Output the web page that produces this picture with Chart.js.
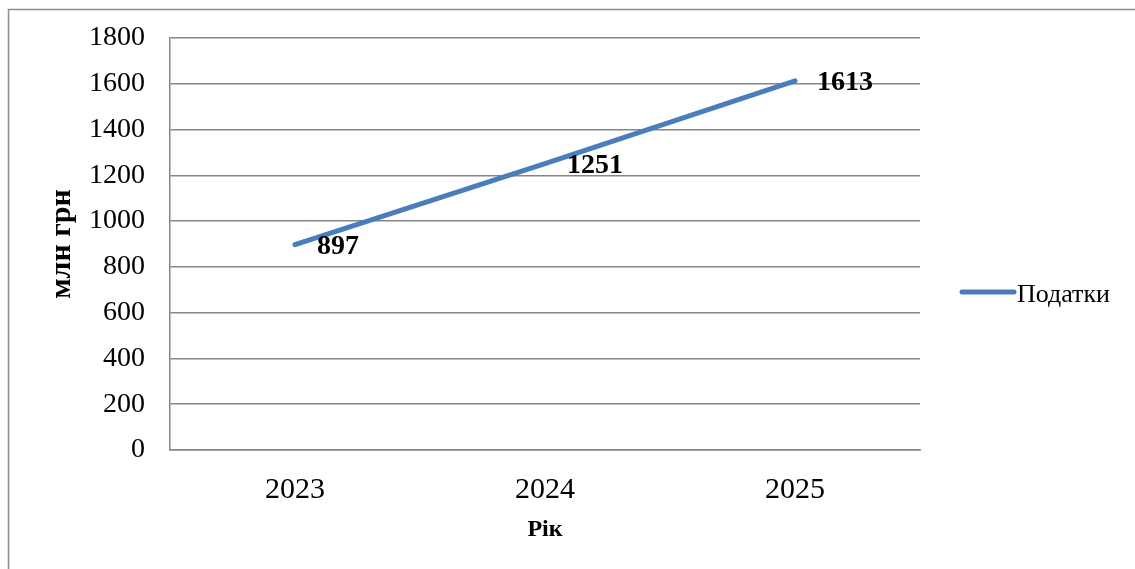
<!DOCTYPE html>
<html>
<head>
<meta charset="utf-8">
<script src="https://cdn.jsdelivr.net/npm/chart.js@4"></script>
<style>
  html, body { margin: 0; padding: 0; background: #fff; }
  #wrap { width: 1135px; height: 569px; position: relative; }
</style>
</head>
<body>
<div id="wrap"><canvas id="taxChart" width="1135" height="569"></canvas></div>
<script>
const years = ['2023', '2024', '2025'];
const taxes = [897, 1251, 1613];
const yTicks = [0, 200, 400, 600, 800, 1000, 1200, 1400, 1600, 1800];
const seriesName = 'Податки';

const serif = "'Times New Roman', 'Liberation Serif', serif";
const gridGray = '#868686';
const lineBlue = '#4a7ebb';

// frame around the whole chart, legend and value labels
const extras = {
  id: 'extras',
  beforeDraw(chart) {
    const c = chart.ctx;
    c.save();
    c.strokeStyle = '#8c8c8c';
    c.lineWidth = 1.5;
    c.strokeRect(8.5, 9.5, 1300, 700);
    c.restore();
  },
  afterDraw(chart) {
    const c = chart.ctx;
    const ds = chart.data.datasets[0];
    const meta = chart.getDatasetMeta(0);
    c.save();
    c.fillStyle = '#000';
    c.font = 'bold 28px ' + serif;
    c.textAlign = 'left';
    c.textBaseline = 'middle';
    meta.data.forEach((pt, i) => {
      c.fillText(String(ds.data[i]), pt.x + 22, pt.y + 2);
    });

    // legend
    c.strokeStyle = ds.borderColor;
    c.lineWidth = 5;
    c.lineCap = 'round';
    c.beginPath();
    c.moveTo(962, 292);
    c.lineTo(1014, 292);
    c.stroke();
    c.font = '26px ' + serif;
    c.fillText(ds.label, 1017, 295);
    c.restore();
  }
};

new Chart(document.getElementById('taxChart'), {
  type: 'line',
  data: {
    labels: years,
    datasets: [{
      label: seriesName,
      data: taxes,
      borderColor: lineBlue,
      backgroundColor: lineBlue,
      borderWidth: 5,
      borderCapStyle: 'round',
      pointRadius: 0,
      tension: 0
    }]
  },
  options: {
    responsive: false,
    animation: false,
    layout: { padding: { left: 0, right: 215, top: 38, bottom: 25 } },
    plugins: {
      legend: { display: false },
      tooltip: { enabled: false }
    },
    scales: {
      x: {
        offset: true,
        grid: { display: false },
        border: { display: true, color: gridGray, width: 1.5 },
        ticks: { color: '#000', font: { family: serif, size: 30 }, padding: 14 },
        title: {
          display: true, text: 'Рік', color: '#000',
          font: { family: serif, size: 24, weight: 'bold' },
          padding: { top: 4, bottom: 0 }
        },
        afterFit(scale) { scale.height = 94; }
      },
      y: {
        min: 0,
        max: 1800,
        afterBuildTicks(scale) { scale.ticks = yTicks.map(v => ({ value: v })); },
        grid: { color: gridGray, lineWidth: 1.5, drawTicks: false },
        border: { display: true, color: gridGray, width: 1.5 },
        ticks: {
          color: '#000', font: { family: serif, size: 28 }, padding: 25,
          callback: v => String(v)
        },
        title: {
          display: true, text: 'млн грн', color: '#000',
          font: { family: serif, size: 30, weight: 'bold' },
          padding: { top: 44, bottom: 0 }
        },
        afterFit(scale) {
          scale.width = 170;
          scale.paddingTop = 0;
          scale.paddingBottom = 0;
        }
      }
    }
  },
  plugins: [extras]
});
</script>
</body>
</html>
